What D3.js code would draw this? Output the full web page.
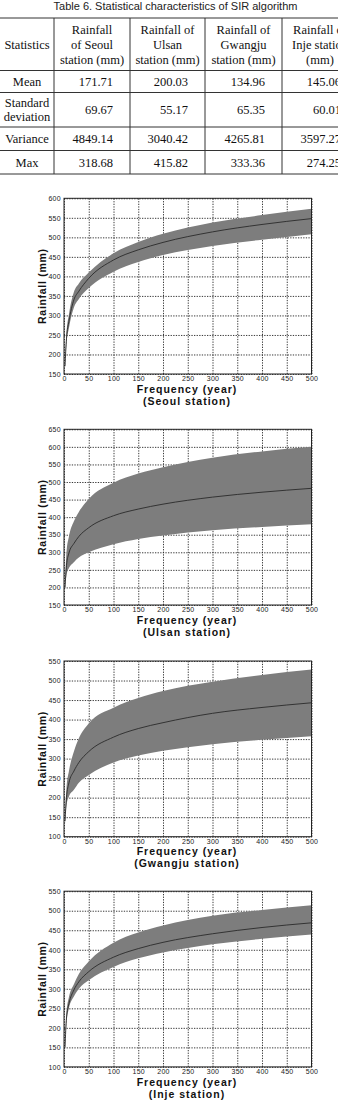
<!DOCTYPE html>
<html>
<head>
<meta charset="utf-8">
<script src="https://cdn.jsdelivr.net/npm/d3@7"></script>
<style>
  body { margin: 0; background: #fff; }
  svg { display: block; }
</style>
</head>
<body>
<svg id="page" width="338" height="1103"></svg>
<script>
// ---- table data ----
const tableTitle = "Table 6. Statistical characteristics of SIR algorithm";
const tableHeaders = [
  ["Statistics"],
  ["Rainfall", "of Seoul", "station (mm)"],
  ["Rainfall of", "Ulsan", "station (mm)"],
  ["Rainfall of", "Gwangju", "station (mm)"],
  ["Rainfall of", "Inje station", "(mm)"]
];
const statLabels = [["Mean"], ["Standard", "deviation"], ["Variance"], ["Max"]];
const seoulStats = ["171.71", "69.67", "4849.14", "318.68"];
const ulsanStats = ["200.03", "55.17", "3040.42", "415.82"];
const gwangjuStats = ["134.96", "65.35", "4265.81", "333.36"];
const injeStats = ["145.06", "60.01", "3597.27", "274.25"];

// ---- chart data (return period in years, rainfall in mm) ----
const frequency = [2, 5, 10, 20, 30, 50, 100, 150, 200, 300, 400, 500];

const seoulMean  = [170, 240, 285, 340, 362, 395, 442, 468, 487, 514, 533, 548];
const seoulUpper = [175, 255, 303, 360, 382, 410, 459, 488, 509, 538, 557, 573];
const seoulLower = [165, 228, 268, 320, 342, 370, 412, 437, 455, 478, 494, 508];

const ulsanMean  = [200, 262, 298, 325, 345, 370, 404, 423, 437, 457, 471, 482];
const ulsanUpper = [205, 300, 345, 388, 415, 452, 498, 524, 542, 569, 587, 600];
const ulsanLower = [195, 235, 255, 272, 285, 300, 323, 338, 348, 363, 372, 380];

const gwangjuMean  = [140, 200, 238, 268, 290, 318, 355, 377, 392, 416, 431, 443];
const gwangjuUpper = [148, 225, 268, 318, 352, 390, 430, 455, 473, 497, 514, 528];
const gwangjuLower = [132, 180, 203, 220, 238, 258, 290, 308, 320, 337, 348, 357];

const injeMean  = [150, 225, 262, 297, 318, 344, 381, 403, 419, 441, 457, 469];
const injeUpper = [155, 240, 279, 312, 338, 370, 418, 444, 462, 487, 502, 514];
const injeLower = [145, 212, 250, 280, 300, 322, 356, 378, 393, 414, 428, 439];

const xTicks = [0, 50, 100, 150, 200, 250, 300, 350, 400, 450, 500];
const seoulTicks = [150, 200, 250, 300, 350, 400, 450, 500, 550, 600];
const ulsanTicks = [150, 200, 250, 300, 350, 400, 450, 500, 550, 600, 650];
const gwangjuTicks = [100, 150, 200, 250, 300, 350, 400, 450, 500, 550];
const injeTicks = [100, 150, 200, 250, 300, 350, 400, 450, 500, 550];

const svg = d3.select("#page");
svg.append("rect").attr("width", 338).attr("height", 1103).attr("fill", "#fff");

// ---- table ----
function drawTable() {
  const g = svg.append("g").attr("class", "table");
  const rowLines = [18, 70.5, 92.5, 127, 150.5, 174];
  const colLines = [54, 130, 205, 282, 358];
  const serif = "'Liberation Serif', 'Times New Roman', serif";

  g.append("text")
    .attr("x", 175.5).attr("y", 6).attr("dy", "0.35em")
    .attr("text-anchor", "middle")
    .style("font-family", "'Liberation Sans', Arial, sans-serif")
    .style("font-size", "11px")
    .style("fill", "#222")
    .text(tableTitle);

  rowLines.forEach(yy => {
    g.append("line").attr("x1", 0).attr("x2", 338).attr("y1", yy).attr("y2", yy)
      .attr("stroke", "#333").attr("stroke-width", 1);
  });
  colLines.slice(0, 4).forEach(xx => {
    g.append("line").attr("x1", xx).attr("x2", xx).attr("y1", rowLines[0]).attr("y2", rowLines[5])
      .attr("stroke", "#333").attr("stroke-width", 1);
  });

  // last column runs past the page edge, as in the scanned table
  const colCenters = [27, 92, 167.5, 243.5, 320];
  const headerMid = (rowLines[0] + rowLines[1]) / 2;
  tableHeaders.forEach((lines, i) => {
    lines.forEach((t, j) => {
      g.append("text")
        .attr("x", colCenters[i])
        .attr("y", headerMid + (j - (lines.length - 1) / 2) * 15)
        .attr("dy", "0.35em")
        .attr("text-anchor", "middle")
        .style("font-family", serif).style("font-size", "12.5px").style("fill", "#111")
        .text(t);
    });
  });

  const columns = [seoulStats, ulsanStats, gwangjuStats, injeStats];
  statLabels.forEach((lines, r) => {
    const mid = (rowLines[r + 1] + rowLines[r + 2]) / 2;
    lines.forEach((t, j) => {
      g.append("text")
        .attr("x", colCenters[0])
        .attr("y", mid + (j - (lines.length - 1) / 2) * 13.5)
        .attr("dy", "0.35em")
        .attr("text-anchor", "middle")
        .style("font-family", serif).style("font-size", "12.5px").style("fill", "#111")
        .text(t);
    });
    columns.forEach((col, c) => {
      g.append("text")
        .attr("x", colLines[c + 1] - 17)
        .attr("y", mid)
        .attr("dy", "0.35em")
        .attr("text-anchor", "end")
        .style("font-family", serif).style("font-size", "12.5px").style("fill", "#111")
        .text(col[r]);
    });
  });
}

// ---- one rainfall-frequency panel ----
function drawPanel(st, top) {
  const left = 64, right = 311.5, h = 175.7;
  const x = d3.scaleLinear().domain([0, 500]).range([left, right]);
  const y = d3.scaleLinear().domain([st.ticks[0], st.ticks[st.ticks.length - 1]]).range([top + h, top]);
  const g = svg.append("g").attr("class", "panel");

  // grid
  g.append("g")
    .attr("transform", `translate(0,${top + h})`)
    .call(d3.axisBottom(x).tickValues(xTicks).tickSize(-h).tickFormat(""))
    .call(a => a.select(".domain").remove());
  g.append("g")
    .attr("transform", `translate(${left},0)`)
    .call(d3.axisLeft(y).tickValues(st.ticks).tickSize(-(right - left)).tickFormat(""))
    .call(a => a.select(".domain").remove());
  g.selectAll(".tick line")
    .attr("stroke", "#222")
    .attr("stroke-width", 0.9)
    .attr("stroke-dasharray", "1.3,1.3");

  const rows = frequency.map((f, i) => ({ f, m: st.mean[i], lo: st.lower[i], hi: st.upper[i] }));

  g.append("path")
    .datum(rows)
    .attr("fill", "#7d7d7d")
    .attr("d", d3.area().curve(d3.curveMonotoneX)
      .x(d => x(d.f)).y0(d => y(d.lo)).y1(d => y(d.hi)));

  g.append("path")
    .datum(rows)
    .attr("fill", "none")
    .attr("stroke", "#2a2a2a")
    .attr("stroke-width", 0.9)
    .attr("d", d3.line().curve(d3.curveMonotoneX).x(d => x(d.f)).y(d => y(d.m)));

  g.append("rect")
    .attr("x", left).attr("y", top).attr("width", right - left).attr("height", h)
    .attr("fill", "none").attr("stroke", "#222").attr("stroke-width", 1);

  // tick labels
  const tickFont = a => a.selectAll("text")
    .style("font-family", "'Liberation Sans', Arial, sans-serif")
    .style("font-size", "7px")
    .style("letter-spacing", "0.3px")
    .attr("fill", "#222");
  g.append("g")
    .attr("transform", `translate(0,${top + h})`)
    .call(d3.axisBottom(x).tickValues(xTicks).tickSize(0).tickPadding(2))
    .call(a => a.select(".domain").remove())
    .call(tickFont);
  g.append("g")
    .attr("transform", `translate(${left},0)`)
    .call(d3.axisLeft(y).tickValues(st.ticks).tickSize(0).tickPadding(3))
    .call(a => a.select(".domain").remove())
    .call(tickFont);

  // axis titles
  const bold = "'Liberation Sans', Arial, sans-serif";
  g.append("text")
    .attr("x", 187).attr("y", top + h + 15).attr("dy", "0.35em")
    .attr("text-anchor", "middle")
    .style("font-family", bold).style("font-weight", "bold")
    .style("font-size", "10.5px").style("letter-spacing", "1px")
    .attr("fill", "#111")
    .text("Frequency (year)");
  g.append("text")
    .attr("x", 187).attr("y", top + h + 27).attr("dy", "0.35em")
    .attr("text-anchor", "middle")
    .style("font-family", bold).style("font-weight", "bold")
    .style("font-size", "10.5px").style("letter-spacing", "1px")
    .attr("fill", "#111")
    .text(`(${st.name} station)`);
  g.append("text")
    .attr("transform", `translate(42,${top + h / 2}) rotate(-90)`)
    .attr("dy", "0.35em")
    .attr("text-anchor", "middle")
    .style("font-family", bold).style("font-weight", "bold")
    .style("font-size", "10.5px").style("letter-spacing", "0.7px")
    .attr("fill", "#111")
    .text("Rainfall (mm)");
}

drawTable();
drawPanel({ name: "Seoul", mean: seoulMean, upper: seoulUpper, lower: seoulLower, ticks: seoulTicks }, 198.3);
drawPanel({ name: "Ulsan", mean: ulsanMean, upper: ulsanUpper, lower: ulsanLower, ticks: ulsanTicks }, 429.3);
drawPanel({ name: "Gwangju", mean: gwangjuMean, upper: gwangjuUpper, lower: gwangjuLower, ticks: gwangjuTicks }, 661);
drawPanel({ name: "Inje", mean: injeMean, upper: injeUpper, lower: injeLower, ticks: injeTicks }, 891.2);
</script>
</body>
</html>
